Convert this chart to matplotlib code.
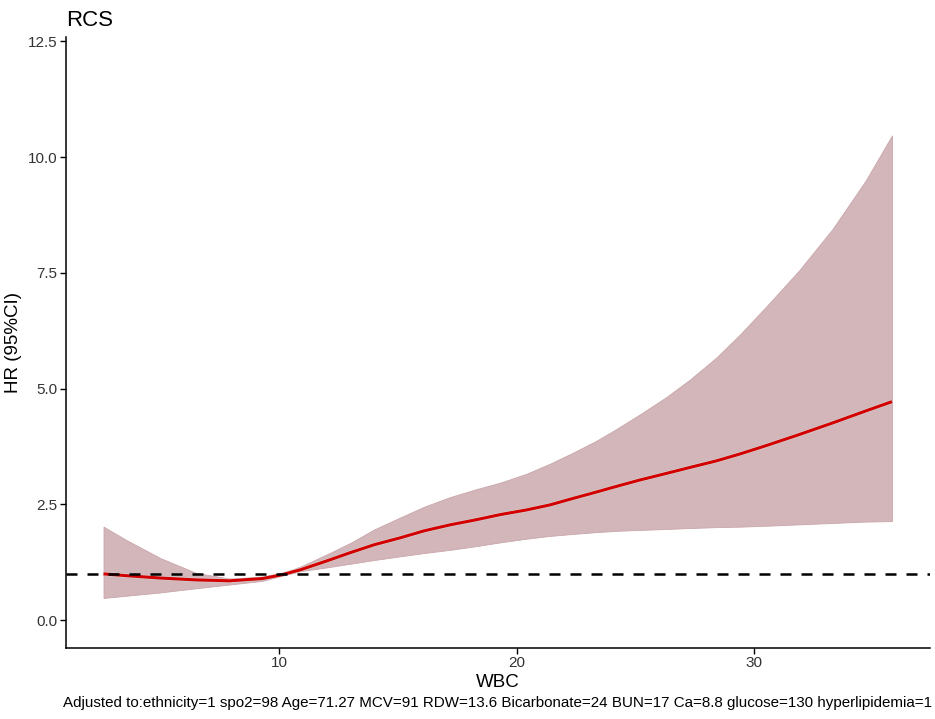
import matplotlib
matplotlib.use('Agg')
import matplotlib.pyplot as plt

plt.rcParams['font.family'] = ['Liberation Sans', 'DejaVu Sans']

# values (WBC vs HR with 95% CI)
wbc = [2.6, 3.6, 5.0, 6.5, 7.9, 9.3, 10.1, 10.9, 12.0, 13.0, 14.0, 15.1, 16.1,
       17.2, 18.3, 19.3, 20.4, 21.4, 22.3, 23.3, 24.2, 25.2, 26.3, 27.3, 28.4,
       29.4, 30.5, 31.9, 33.3, 34.7, 35.8]
hr = [1.00, 0.96, 0.91, 0.87, 0.85, 0.90, 0.98, 1.09, 1.28, 1.46, 1.63, 1.78, 1.93,
      2.06, 2.17, 2.28, 2.38, 2.49, 2.62, 2.76, 2.89, 3.03, 3.17, 3.30, 3.44,
      3.59, 3.77, 4.01, 4.26, 4.52, 4.72]
hr_low = [0.48, 0.53, 0.60, 0.69, 0.77, 0.85, 0.96, 1.06, 1.14, 1.22, 1.30, 1.38, 1.45,
          1.52, 1.60, 1.68, 1.76, 1.82, 1.86, 1.90, 1.93, 1.95, 1.97, 1.99, 2.01,
          2.02, 2.04, 2.07, 2.10, 2.13, 2.14]
hr_up = [2.02, 1.72, 1.34, 1.02, 0.90, 0.93, 1.01, 1.16, 1.42, 1.67, 1.96, 2.22, 2.45,
         2.66, 2.83, 2.97, 3.16, 3.38, 3.60, 3.86, 4.13, 4.45, 4.82, 5.20, 5.67,
         6.17, 6.77, 7.56, 8.45, 9.50, 10.47]

ref_line = 1.0
x_ticks = [10, 20, 30]
y_ticks = [0.0, 2.5, 5.0, 7.5, 10.0, 12.5]
caption = ('Adjusted to:ethnicity=1 spo2=98 Age=71.27 MCV=91 RDW=13.6 '
           'Bicarbonate=24 BUN=17 Ca=8.8 glucose=130 hyperlipidemia=1')

fig = plt.figure(figsize=(9.35, 7.19), dpi=100)
ax = fig.add_axes([0.0706, 0.0988, 0.924, 0.850])

ax.fill_between(wbc, hr_low, hr_up, color='#d2b6b9', lw=0.6, edgecolor='#c9a6aa')
ax.plot(wbc, hr, color='#d6d6d6', lw=3.0, solid_capstyle='butt')
ax.plot(wbc, hr, color='#d40000', lw=2.2, solid_capstyle='butt')
ax.axhline(ref_line, color='black', lw=1.8, linestyle=(0, (4.4, 4.0)))

ax.set_xlim(1.02, 37.4)
ax.set_ylim(-0.6, 12.6)
ax.set_xticks(x_ticks)
ax.set_yticks(y_ticks)
ax.set_yticklabels([f'{v:.1f}' for v in y_ticks])

for side in ('top', 'right'):
    ax.spines[side].set_visible(False)
for side in ('left', 'bottom'):
    ax.spines[side].set_linewidth(1.1)
ax.tick_params(length=4, width=1.0, labelsize=11, labelcolor='#333333', pad=2)

ax.set_xlabel('WBC', fontsize=13.5, labelpad=3)
ax.set_ylabel('HR (95%CI)', fontsize=13.5, labelpad=4)
ax.set_title('RCS', loc='left', fontsize=16, pad=8)

fig.text(0.997, 0.012, caption, ha='right', va='bottom', fontsize=10.9)

fig.savefig('out.png', dpi=100)
